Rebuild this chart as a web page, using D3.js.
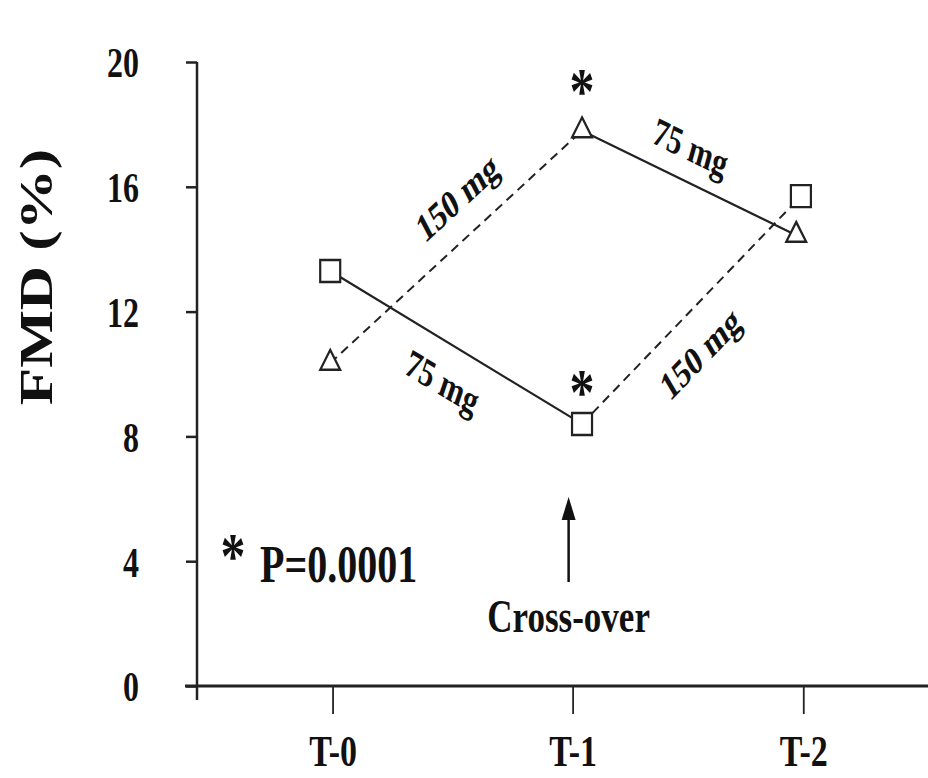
<!DOCTYPE html>
<html lang="en">
<head>
<meta charset="UTF-8">
<title>FMD cross-over</title>
<script src="https://d3js.org/d3.v7.min.js"></script>
<style>
  body { margin: 0; background: #fff; }
  text { font-family: "Liberation Serif", "Times New Roman", serif; font-weight: bold; fill: #111; }
</style>
</head>
<body>
<div id="chart"></div>
<script>
// categories and values
const timeLabels = ["T-0", "T-1", "T-2"];
const tickPos = [0.01, 1.03, 2.01];      // where the x ticks sit
const yTicks = [0, 4, 8, 12, 16, 20];

// square series: 75 mg first, then 150 mg
const squareX = [0, 1.07, 2.0];
const squareY = [13.3, 8.4, 15.7];
// triangle series: 150 mg first, then 75 mg
const triX = [0, 1.07, 1.98];
const triY = [10.35, 17.8, 14.45];

const W = 928, H = 778;
const SY = 1.33; // the figure's text is stretched vertically

const svg = d3.select("#chart").append("svg")
  .attr("width", W).attr("height", H);

const x = d3.scaleLinear().domain([-0.566, 2.54]).range([197, 928]);
const y = d3.scaleLinear().domain([0, 20]).range([686, 62]);

// y axis
const gy = svg.append("g").attr("transform", `translate(${x.range()[0]},0)`)
  .call(d3.axisLeft(y).tickValues(yTicks).tickSize(11).tickPadding(47).tickFormat(d3.format("d")));
gy.select(".domain").remove();
gy.selectAll(".tick line").attr("stroke", "#222").attr("stroke-width", 2.5);
gy.selectAll(".tick text")
  .attr("font-size", 32).attr("dy", "0.35em")
  .attr("transform", `scale(1,${SY})`);

// x axis
const gx = svg.append("g").attr("transform", `translate(0,${y(0)})`)
  .call(d3.axisBottom(x).tickValues(tickPos).tickSize(28).tickFormat((d, i) => timeLabels[i]));
gx.select(".domain").remove();
gx.selectAll(".tick line").attr("stroke", "#222").attr("stroke-width", 1.8);
gx.selectAll(".tick text")
  .attr("font-size", 34).attr("dy", 0).attr("y", 80 / SY)
  .attr("transform", `scale(1,${SY})`);

// axis lines (they cross at the origin)
svg.append("line")
  .attr("x1", x.range()[0]).attr("x2", x.range()[0])
  .attr("y1", y(20)).attr("y2", y(0) + 14)
  .attr("stroke", "#222").attr("stroke-width", 2.5);
svg.append("line")
  .attr("x1", x.range()[0] - 12).attr("x2", W)
  .attr("y1", y(0)).attr("y2", y(0))
  .attr("stroke", "#222").attr("stroke-width", 3);

// y title
svg.append("text")
  .attr("transform", `translate(52,277) scale(1,${SY}) rotate(-90)`)
  .attr("text-anchor", "middle")
  .attr("font-size", 46)
  .text("FMD (%)");

// segments between visits, with the dose written along each
const segs = [
  { xs: squareX, ys: squareY, i: 0, dash: false, label: "75 mg", side: 1, t: 0.52, off: 36 },
  { xs: squareX, ys: squareY, i: 1, dash: true, label: "150 mg", side: 1, t: 0.42, off: 36 },
  { xs: triX, ys: triY, i: 0, dash: true, label: "150 mg", side: -1, t: 0.6, off: 36 },
  { xs: triX, ys: triY, i: 1, dash: false, label: "75 mg", side: -1, t: 0.44, off: 33 }
];

segs.forEach(s => {
  const x1 = x(s.xs[s.i]), y1 = y(s.ys[s.i]);
  const x2 = x(s.xs[s.i + 1]), y2 = y(s.ys[s.i + 1]);
  svg.append("line")
    .attr("x1", x1).attr("y1", y1).attr("x2", x2).attr("y2", y2)
    .attr("stroke", "#222")
    .attr("stroke-width", s.dash ? 2 : 2.2)
    .attr("stroke-dasharray", s.dash ? "9,6" : null);

  // label along the segment, offset perpendicular
  const dx = x2 - x1, dy = y2 - y1, len = Math.hypot(dx, dy);
  let nx = -dy / len, ny = dx / len;
  if (ny < 0) { nx = -nx; ny = -ny; } // normal pointing down
  const off = s.off * s.side;
  const cx = x1 + dx * s.t + nx * off, cy = y1 + dy * s.t + ny * off;
  const a = Math.atan((dy / dx) / SY) * 180 / Math.PI;
  svg.append("text")
    .attr("transform", `translate(${cx},${cy}) scale(1,${SY}) rotate(${a})`)
    .attr("text-anchor", "middle")
    .attr("dy", "0.35em")
    .attr("font-size", 30)
    .text(s.label);
});

// markers
svg.selectAll(".sq").data(squareX).join("path")
  .attr("class", "sq")
  .attr("transform", (d, i) => `translate(${x(d)},${y(squareY[i])}) scale(1,1.1)`)
  .attr("d", d3.symbol(d3.symbolSquare, 400)())
  .attr("fill", "#fff").attr("stroke", "#222").attr("stroke-width", 2.2);

svg.selectAll(".tri").data(triX).join("path")
  .attr("class", "tri")
  .attr("transform", (d, i) => `translate(${x(d)},${y(triY[i])}) scale(1,1.15)`)
  .attr("d", d3.symbol(d3.symbolTriangle, 170)())
  .attr("fill", "#fff").attr("stroke", "#222").attr("stroke-width", 2.2);

// significance stars at T-1
const star = (cx, cy, size) => svg.append("text")
  .attr("transform", `translate(${cx},${cy}) scale(1,${SY})`)
  .attr("text-anchor", "middle")
  .attr("dy", "0.49em")
  .attr("font-size", size)
  .text("*");
star(x(triX[1]), y(triY[1]) - 50, 50);
star(x(squareX[1]), y(squareY[1]) - 43, 50);

// P value note
star(233, 545, 50);
svg.append("text")
  .attr("transform", `translate(260,582) scale(1,${SY})`)
  .attr("font-size", 40)
  .text("P=0.0001");

// cross-over arrow
const ax = x(1.03) - 4;
svg.append("line")
  .attr("x1", ax).attr("x2", ax).attr("y1", 582).attr("y2", 515)
  .attr("stroke", "#111").attr("stroke-width", 2.5);
svg.append("path")
  .attr("d", `M${ax},497 L${ax - 7},520 L${ax + 7},520 Z`)
  .attr("fill", "#111");
svg.append("text")
  .attr("transform", `translate(${ax},632) scale(1,${SY})`)
  .attr("text-anchor", "middle")
  .attr("font-size", 35)
  .text("Cross-over");
</script>
</body>
</html>
